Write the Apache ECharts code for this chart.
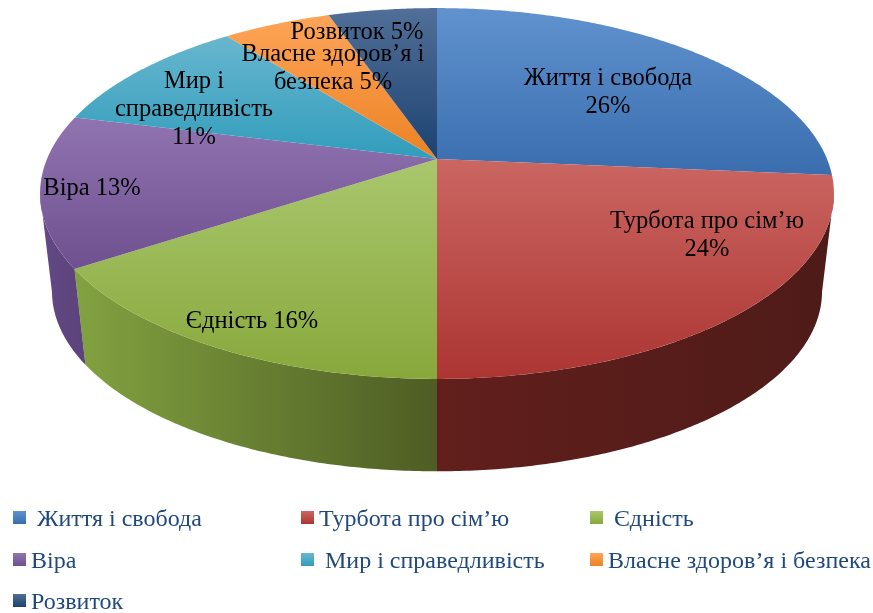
<!DOCTYPE html>
<html>
<head>
<meta charset="utf-8">
<style>
  html, body { margin: 0; padding: 0; background: #fff; }
  #chart { width: 873px; height: 613px; }
</style>
<script src="https://cdn.jsdelivr.net/npm/echarts@6/dist/echarts.min.js"></script>
</head>
<body>
<div id="chart"></div>
<script>
var categories = ['Життя і свобода', 'Турбота про сім’ю', 'Єдність', 'Віра', 'Мир і справедливість', 'Власне здоров’я і безпека', 'Розвиток']
// shares, the labels print them rounded
var values = [26.4, 23.6, 15.7, 13.2, 10.5, 5.3, 5.3]
var sliceLabels = ['Життя і свобода', 'Турбота про сім’ю', 'Єдність', 'Віра', 'Мир і\nсправедливість', 'Власне здоров’я і\nбезпека', 'Розвиток']
var labelBreak = ['\n', '\n', ' ', ' ', '\n', ' ', ' ']

// layout and styling, not data
var labelPos = [[608, 93], [707, 236], [252, 322], [92, 189], [194, 110], [333, 69], [357, 33]]
var topColors = [['#6092cf', '#3a6dae'], ['#cb6662', '#ac3532'], ['#a9c76d', '#88a83c'], ['#9074b0', '#6f5090'], ['#68b6ce', '#319dbc'], ['#fea458', '#ec8224'], ['#516f98', '#1c4270']]
var wallColors = [['#2c4f80', '#2c4f80'], ['#621f1c', '#4e1b18'], ['#82a240', '#4e5d24'], ['#644a86', '#5c4279'], ['#2a7a90', '#2a7a90'], ['#b56520', '#b56520'], ['#1a3558', '#1a3558']]
var legendPos = [[13, 508, 6], [301, 508, 0], [590, 508, 6], [13, 550, 0], [301, 550, 6], [590, 550, 0], [13, 591, 0]]

var cx = 437
var topY = 159
var radiusX = 390
var radiusY = 179
var persp = 0.186
var wallY = 258
var wallScale = 0.97
// the wall only shows between the two silhouette angles
var frontFrom = 100.9 / 180 * Math.PI
var frontTo = 259.1 / 180 * Math.PI

function project(angle, baseY, scale) {
  var u = Math.sin(angle)
  var v = Math.cos(angle)
  var d = 1 + persp * v
  return [cx + scale * radiusX * u / d, baseY - scale * radiusY * v / d]
}

function arc(a0, a1, baseY, scale) {
  var n = Math.max(2, Math.ceil((a1 - a0) / 0.01))
  var pts = []
  for (var i = 0; i <= n; i++) {
    pts.push(project(a0 + (a1 - a0) * i / n, baseY, scale))
  }
  return pts
}

function gradient(c, horizontal) {
  return {
    type: 'linear',
    x: 0,
    y: 0,
    x2: horizontal ? 1 : 0,
    y2: horizontal ? 0 : 1,
    colorStops: [{ offset: 0, color: c[0] }, { offset: 1, color: c[1] }]
  }
}

var total = values.reduce(function (a, b) { return a + b }, 0)

function makeRenderItem(idx) {
  return function (params, api) {
    var before = values.slice(0, idx).reduce(function (a, b) { return a + b }, 0)
    var a0 = before / total * Math.PI * 2
    var a1 = (before + api.value(0)) / total * Math.PI * 2
    var children = []

    var w0 = Math.max(a0, frontFrom)
    var w1 = Math.min(a1, frontTo)
    if (w1 > w0) {
      children.push({
        type: 'polygon',
        z2: 1,
        shape: { points: arc(w0, w1, topY, 1).concat(arc(w0, w1, wallY, wallScale).reverse()) },
        style: { fill: gradient(wallColors[idx], true) }
      })
    }
    children.push({
      type: 'polygon',
      z2: 10,
      shape: { points: [[cx, topY]].concat(arc(a0, a1, topY, 1)) },
      style: { fill: gradient(topColors[idx], false) }
    })
    children.push({
      type: 'text',
      z2: 20 + idx,
      style: {
        x: labelPos[idx][0],
        y: labelPos[idx][1],
        text: sliceLabels[idx] + labelBreak[idx] + Math.round(api.value(0)) + '%',
        fill: '#000',
        font: '24.5px "Liberation Serif"',
        lineHeight: 28,
        align: 'center',
        verticalAlign: 'middle'
      }
    })
    return { type: 'group', children: children }
  }
}

var chart = echarts.init(document.getElementById('chart'), null, { renderer: 'canvas' })

chart.setOption({
  animation: false,
  backgroundColor: '#fff',
  legend: categories.map(function (name, i) {
    return {
      data: [{ name: name, itemStyle: { color: gradient(topColors[i], false) } }],
      left: legendPos[i][0],
      top: legendPos[i][1],
      padding: 0,
      icon: 'rect',
      itemWidth: 13,
      itemHeight: 13,
      selectedMode: false,
      formatter: '{t|{name}}',
      textStyle: {
        rich: {
          t: {
            color: '#1f497d',
            fontFamily: 'Liberation Serif',
            fontSize: 24,
            padding: [5, 0, 0, legendPos[i][2]]
          }
        }
      }
    }
  }),
  series: categories.map(function (name, i) {
    return {
      type: 'custom',
      name: name,
      coordinateSystem: 'none',
      silent: true,
      data: [[values[i]]],
      renderItem: makeRenderItem(i)
    }
  })
})
</script>
</body>
</html>
